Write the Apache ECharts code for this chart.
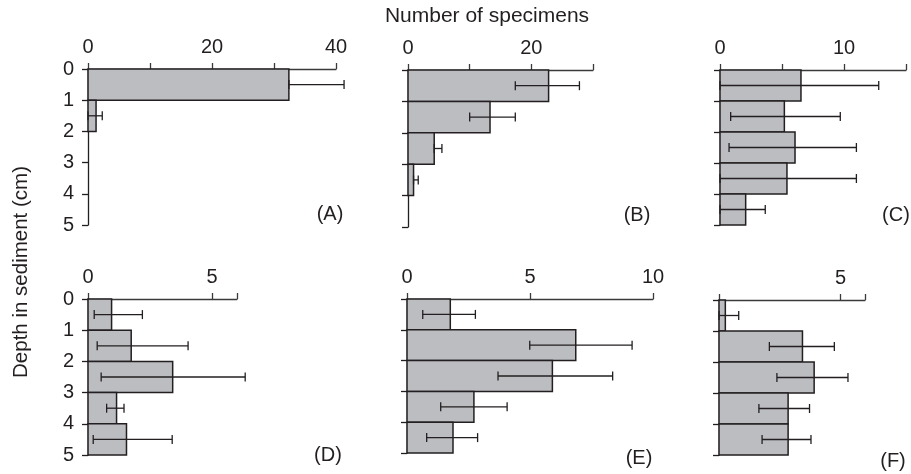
<!DOCTYPE html>
<html>
<head>
<meta charset="utf-8">
<script src="https://cdn.jsdelivr.net/npm/echarts@6/dist/echarts.min.js"></script>
<style>html,body{margin:0;padding:0;background:#fff}#c{width:911px;height:474px}</style>
</head>
<body>
<div id="c"></div>
<script>
// ---- Data ----
const depthTop = [0, 1, 2, 3, 4];
const depthTicks = [0, 1, 2, 3, 4, 5];
const panelLetters = ['(A)', '(B)', '(C)', '(D)', '(E)', '(F)'];

const countsA = [32.4, 1.3, 0, 0, 0];
const lowA    = [32.4, 0, null, null, null];
const highA   = [41.3, 2.3, null, null, null];

const countsB = [22.8, 13.3, 4.25, 0.9, 0];
const lowB    = [17.4, 10.0, 4.25, 0.9, null];
const highB   = [27.8, 17.4, 5.5, 1.66, null];

const countsC = [6.53, 5.19, 6.05, 5.4, 2.07];
const lowC    = [0, 0.86, 0.73, 0, 0];
const highC   = [12.8, 9.7, 11.0, 11.0, 3.65];

const countsD = [0.95, 1.74, 3.41, 1.15, 1.55];
const lowD    = [0.25, 0.37, 0.53, 0.75, 0.21];
const highD   = [2.19, 4.03, 6.33, 1.45, 3.39];

const countsE = [1.76, 6.86, 5.91, 2.72, 1.87];
const lowE    = [0.64, 4.99, 3.70, 1.37, 0.80];
const highE   = [2.78, 9.15, 8.36, 4.07, 2.87];

const countsF = [0.26, 3.43, 3.91, 2.84, 2.84];
const lowF    = [0, 2.07, 2.38, 1.64, 1.77];
const highF   = [0.81, 4.74, 5.30, 3.72, 3.78];

const axisMaxes = [40, 30, 15, 6, 10, 6];
const tickValsA = [0, 10, 20, 30, 40], labelValsA = [0, 20, 40];
const tickValsB = [0, 10, 20, 30],     labelValsB = [0, 20];
const tickValsC = [0, 5, 10, 15],      labelValsC = [0, 10];
const tickValsD = [0, 5, 6],           labelValsD = [0, 5];
const tickValsE = [0, 5, 10],          labelValsE = [0, 5, 10];
const tickValsF = [0, 5, 6],           labelValsF = [5];

// ---- Layout / style ----
const grids = [
  {left: 88,  top: 69,  width: 248, height: 156},
  {left: 408, top: 70,  width: 185, height: 157},
  {left: 720, top: 70,  width: 186, height: 155},
  {left: 88,  top: 299, width: 149, height: 156},
  {left: 407, top: 299, width: 246, height: 154},
  {left: 719, top: 300, width: 146, height: 155}
];
const letterPos = [[330,214],[637,215],[896,215],[328,455],[639,458],[893,461]];
const INK = '#231f20';
const AXIS = '#3a3a3a';
const FONT = '"Liberation Sans", Arial, Helvetica, sans-serif';
const FILL = '#bcbdc0';

const counts = [countsA, countsB, countsC, countsD, countsE, countsF];
const lows = [lowA, lowB, lowC, lowD, lowE, lowF];
const highs = [highA, highB, highC, highD, highE, highF];
const tickVals = [tickValsA, tickValsB, tickValsC, tickValsD, tickValsE, tickValsF];
const labelVals = [labelValsA, labelValsB, labelValsC, labelValsD, labelValsE, labelValsF];

function renderBar(params, api) {
  const d = api.value(0), v = api.value(1);
  const p0 = api.coord([0, d]);
  const p1 = api.coord([v, d + 1]);
  return {
    type: 'rect',
    shape: {x: p0[0], y: p0[1], width: p1[0] - p0[0], height: p1[1] - p0[1]},
    style: {fill: FILL, stroke: INK, lineWidth: 1.5}
  };
}
function renderErr(params, api) {
  const y = api.value(0), lo = api.value(1), hi = api.value(2);
  const a = api.coord([lo, y]);
  const b = api.coord([hi, y]);
  const h = 4.5;
  const st = {stroke: INK, lineWidth: 1.3};
  return {
    type: 'group',
    children: [
      {type: 'line', shape: {x1: a[0], y1: a[1], x2: b[0], y2: b[1]}, style: st},
      {type: 'line', shape: {x1: a[0], y1: a[1] - h, x2: a[0], y2: a[1] + h}, style: st},
      {type: 'line', shape: {x1: b[0], y1: b[1] - h, x2: b[0], y2: b[1] + h}, style: st}
    ]
  };
}

const option = {
  animation: false,
  backgroundColor: '#fff',
  grid: [], xAxis: [], yAxis: [], series: [],
  graphic: [
    {type: 'text', x: 487, y: 16,
     style: {text: 'Number of specimens', font: '21px ' + FONT, fill: INK, align: 'center', verticalAlign: 'middle'}},
    {type: 'text', x: 21, y: 272, rotation: Math.PI / 2,
     style: {text: 'Depth in sediment (cm)', font: '20.5px ' + FONT, fill: INK, align: 'center', verticalAlign: 'middle'}}
  ]
};

for (let i = 0; i < 6; i++) {
  option.grid.push(Object.assign({containLabel: false, outerBoundsMode: 'none'}, grids[i]));
  option.xAxis.push({
    type: 'value', gridIndex: i, position: 'top', min: 0, max: axisMaxes[i],
    axisLine: {show: true, lineStyle: {color: AXIS, width: 1.3}},
    axisTick: {show: true, length: 6, lineStyle: {color: AXIS, width: 1.3}, customValues: tickVals[i]},
    axisLabel: {show: true, margin: 12, color: INK, fontSize: 20, fontFamily: FONT, customValues: labelVals[i], showMinLabel: true, showMaxLabel: true},
    splitLine: {show: false}
  });
  const showY = (i === 0 || i === 3);
  option.yAxis.push({
    type: 'value', gridIndex: i, inverse: true, min: 0, max: 5, interval: 1,
    axisLine: {show: true, onZero: false, lineStyle: {color: INK, width: 1.3}},
    axisTick: {show: true, length: 6, lineStyle: {color: INK, width: 1.3}},
    axisLabel: {show: showY, margin: 14, color: INK, fontSize: 20, fontFamily: FONT},
    splitLine: {show: false}
  });
  const barData = [], errData = [];
  depthTop.forEach((d, k) => {
    if (counts[i][k] > 0) barData.push([d, counts[i][k]]);
    if (lows[i][k] !== null && highs[i][k] !== null) errData.push([d + 0.5, lows[i][k], highs[i][k]]);
  });
  option.series.push({
    type: 'custom', xAxisIndex: i, yAxisIndex: i, renderItem: renderBar,
    encode: {x: 1, y: 0}, data: barData, z: 1, clip: false
  });
  option.series.push({
    type: 'custom', xAxisIndex: i, yAxisIndex: i, renderItem: renderErr,
    encode: {x: [1, 2], y: 0}, data: errData, z: 3, clip: false
  });
  option.graphic.push({
    type: 'text', x: letterPos[i][0], y: letterPos[i][1],
    style: {text: panelLetters[i], font: '20px ' + FONT, fill: INK, align: 'center', verticalAlign: 'middle'}
  });
}

const chart = echarts.init(document.getElementById('c'), null, {renderer: 'canvas'});
chart.setOption(option);
</script>
</body>
</html>
